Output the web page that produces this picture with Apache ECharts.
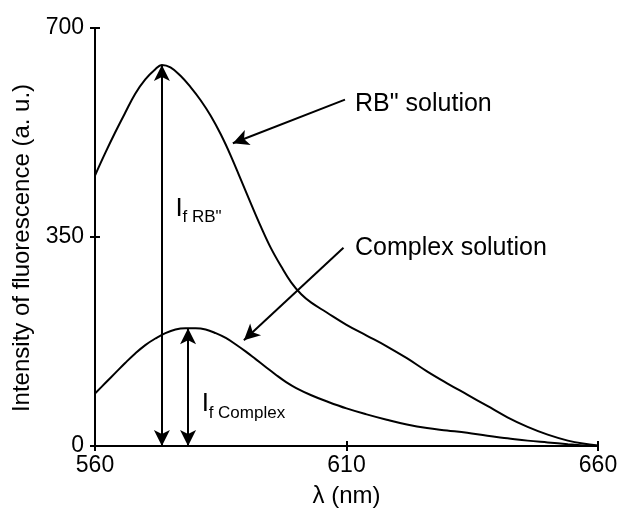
<!DOCTYPE html>
<html>
<head>
<meta charset="utf-8">
<script src="https://cdn.jsdelivr.net/npm/echarts@6/dist/echarts.min.js"></script>
<style>
html,body{margin:0;padding:0;background:#fff;}
#chart{width:624px;height:513px;}
</style>
</head>
<body>
<div id="chart"></div>
<script>
// ---- data ----
var rbWavelength = [560,562,564,566,568,570,572,573.3,575,577,579,581,583,585,587,589,591,593,595,597,599,601,603,606,610,614,618,622,626,630,634,638,642,646,650,654,657,660];
var rbIntensity  = [453,490,525,558,590,614,631,638,634,620,601,579,553,522,486,446,406,367,331,301,274,254,240,224,203,185,167,147,125,105,86,67,48,32,19,9,4,1];
var cxWavelength = [560,562,564,566,568,570,572,574,576,578,580,582,584,586,588,590,592,594,596,598,600,603,606,610,614,618,622,626,630,634,638,642,646,650,654,657,660];
var cxIntensity  = [88,105,122,139,155,169,180,189,195,197,197,195,189,181,170,158,145,132,119,107,97,85,75,63,53,44,36,30,26,22,17,13,9,6,3,1,0];
var xTicks = [560, 610, 660];
var yTicks = [0, 350, 700];
var xAxisTitle = 'λ (nm)';
var yAxisTitle = 'Intensity of fluorescence (a. u.)';
var rbLabel = 'RB" solution';
var cxLabel = 'Complex solution';
var rbPeak = [573.3, 638];
var cxPeak = [578.5, 197];
// annotation anchors (data coords)
var rbArrow = [[609.7, 580], [587.4, 507]];
var cxArrow = [[609.4, 332], [589.6, 177]];
var rbTextPos = [611.7, 572];
var cxTextPos = [611.7, 332];
var rbSubPos = [576.0, 398];
var cxSubPos = [581.2, 70];

var FONT = '"Liberation Sans", Arial, sans-serif';
var chart = echarts.init(document.getElementById('chart'));

function toPairs(xs, ys){ return xs.map(function(x,i){return [x, ys[i]];}); }

var baseX = {
  type:'value', min:xTicks[0], max:xTicks[xTicks.length-1], interval:xTicks[1]-xTicks[0],
  splitLine:{show:false}
};
var baseY = {
  type:'value', min:yTicks[0], max:yTicks[yTicks.length-1], interval:yTicks[1]-yTicks[0],
  splitLine:{show:false}
};

var option = {
  animation:false,
  backgroundColor:'#fff',
  grid:{left:95, right:26, top:28, bottom:63, containLabel:false},
  xAxis:[
    Object.assign({}, baseX, {
      name:xAxisTitle, nameLocation:'middle', nameGap:38,
      nameTextStyle:{color:'#000', fontSize:24, fontFamily:FONT},
      axisLine:{show:true, onZero:false, lineStyle:{color:'#000', width:2}},
      axisTick:{show:true, inside:false, length:5, lineStyle:{color:'#000', width:2}},
      axisLabel:{color:'#000', fontSize:23, fontFamily:FONT, margin:8}
    }),
    Object.assign({}, baseX, {
      position:'bottom',
      axisLine:{show:false},
      axisTick:{show:true, inside:true, length:5, lineStyle:{color:'#000', width:2}},
      axisLabel:{show:false}
    })
  ],
  yAxis:[
    Object.assign({}, baseY, {
      name:yAxisTitle, nameLocation:'middle', nameGap:58, nameRotate:90,
      nameTextStyle:{color:'#000', fontSize:24, fontFamily:FONT, padding:[0,22,0,0]},
      axisLine:{show:true, onZero:false, lineStyle:{color:'#000', width:2}},
      axisTick:{show:true, inside:false, length:5, lineStyle:{color:'#000', width:2}},
      axisLabel:{color:'#000', fontSize:23, fontFamily:FONT, margin:11}
    }),
    Object.assign({}, baseY, {
      position:'left',
      axisLine:{show:false},
      axisTick:{show:true, inside:true, length:5, lineStyle:{color:'#000', width:2}},
      axisLabel:{show:false}
    })
  ],
  series:[
    {
      name:rbLabel, type:'line', data:toPairs(rbWavelength, rbIntensity),
      smooth:0.4, showSymbol:false, symbol:'none',
      lineStyle:{color:'#000', width:2},
      markLine:{
        silent:true, symbol:['none','arrow'], symbolSize:[12,16],
        label:{show:false},
        lineStyle:{color:'#000', width:2, type:'solid'},
        data:[
          [{coord:rbArrow[0]},{coord:rbArrow[1]}],
          [{coord:cxArrow[0]},{coord:cxArrow[1]}],
          [{coord:[rbPeak[0], 0], symbol:'arrow'},{coord:[rbPeak[0], rbPeak[1]], symbol:'arrow'}],
          [{coord:[cxPeak[0], 0], symbol:'arrow'},{coord:[cxPeak[0], cxPeak[1]], symbol:'arrow'}]
        ]
      }
    },
    {
      name:cxLabel, type:'line', data:toPairs(cxWavelength, cxIntensity),
      smooth:0.4, showSymbol:false, symbol:'none',
      lineStyle:{color:'#000', width:2}
    }
  ]
};
chart.setOption(option);

function px(p){ return chart.convertToPixel({xAxisIndex:0, yAxisIndex:0}, p); }
var pRb = px(rbTextPos), pCx = px(cxTextPos), pRbS = px(rbSubPos), pCxS = px(cxSubPos);
function txt(t, p, size, dx, dy){
  return {type:'text', x:p[0]+(dx||0), y:p[1]+(dy||0), style:{text:t, fill:'#000', font:size+'px '+FONT, textAlign:'left', textVerticalAlign:'middle'}};
}
chart.setOption({graphic:[
  txt(rbLabel, pRb, 25),
  txt(cxLabel, pCx, 25),
  txt('I', pRbS, 26, 0, 0),
  txt('f RB"', pRbS, 17, 7, 9),
  txt('I', pCxS, 26, 0, 0),
  txt('f Complex', pCxS, 17, 7, 9)
]});
</script>
</body>
</html>
